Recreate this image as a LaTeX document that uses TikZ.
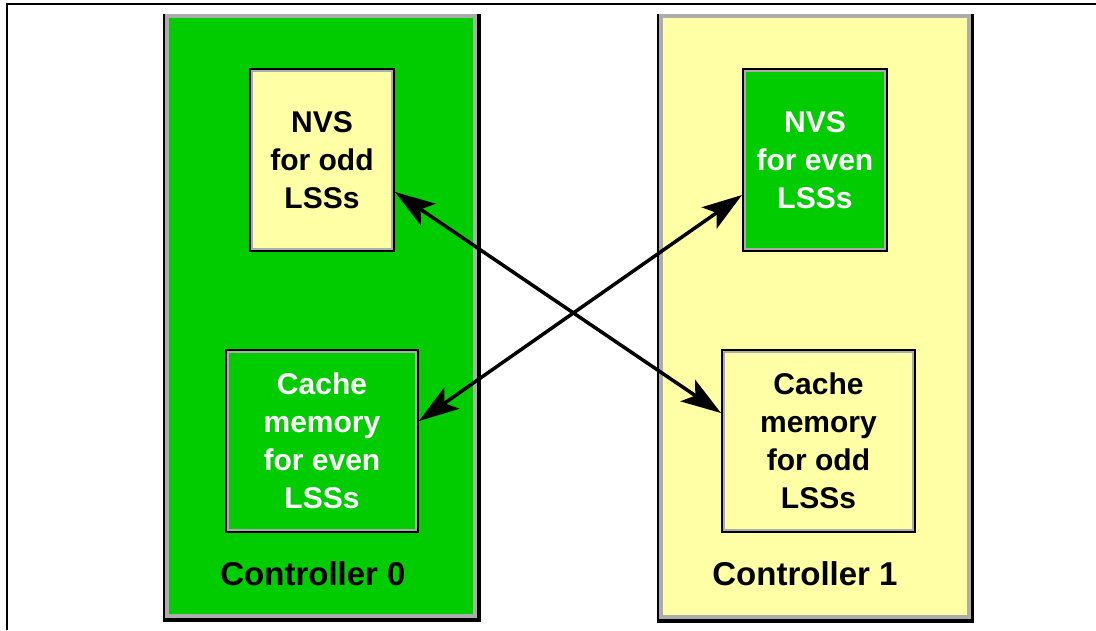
\documentclass[tikz,border=0pt]{standalone}
\usepackage{fontspec}
\setmainfont{Liberation Sans}
\usetikzlibrary{arrows.meta}
\definecolor{ctrlgreen}{RGB}{0,204,0}
\definecolor{ctrlyellow}{RGB}{255,255,166}
\definecolor{rimgray}{RGB}{172,172,172}

\begin{document}
\begin{tikzpicture}
	[x=1pt,y=-1pt,>={Stealth[length=40pt,width=26pt,inset=9pt]},
		ctrl node/.style={rectangle,draw=rimgray,line width=4pt,inner sep=0pt,minimum width=308pt,minimum height=600pt},
		buf node/.style={rectangle,draw=black,line width=2pt,inner sep=0pt,align=center,
			minimum height=182pt,font=\fontsize{30}{38}\selectfont\bfseries,
			path picture={\draw[rimgray,line width=6pt] (path picture bounding box.south west) rectangle (path picture bounding box.north east);}},
		title node/.style={anchor=base,font=\fontsize{33}{40}\selectfont\bfseries}]

	\useasboundingbox (0,0) rectangle (1096,630);
	\draw[line width=1.5pt] (1096,4) -- (7,4) -- (7,630);

	% controller 0
	\fill (163,14) rectangle (481,622);
	\node[ctrl node,fill=ctrlgreen]  (C0) at (321,316) {};
	\node[buf node,fill=ctrlyellow,minimum width=144pt]  (NVSodd) at (322,160) {NVS\\for odd\\LSSs};
	\node[buf node,fill=ctrlgreen,text=white,minimum width=192pt]  (CACHEeven) at (322,441) {Cache\\memory\\for even\\LSSs};
	\node[title node]  (T0) at (313,585) {Controller 0};

	% controller 1
	\fill (657,14) rectangle (974,623);
	\node[ctrl node,fill=ctrlyellow,minimum height=601pt]  (C1) at (815,316.5) {};
	\node[buf node,fill=ctrlgreen,text=white,minimum width=144pt]  (NVSeven) at (815,160) {NVS\\for even\\LSSs};
	\node[buf node,fill=ctrlyellow,minimum width=193pt]  (CACHEodd) at (818.5,441) {Cache\\memory\\for odd\\LSSs};
	\node[title node]  (T1) at (805,585) {Controller 1};

	\path[<->,line width=3.5pt]
	([yshift=-32pt]NVSodd.east) edge ([yshift=28pt]CACHEodd.west)
	([yshift=20pt]CACHEeven.east) edge ([yshift=-35pt]NVSeven.west)
	;

\end{tikzpicture}
\end{document}
